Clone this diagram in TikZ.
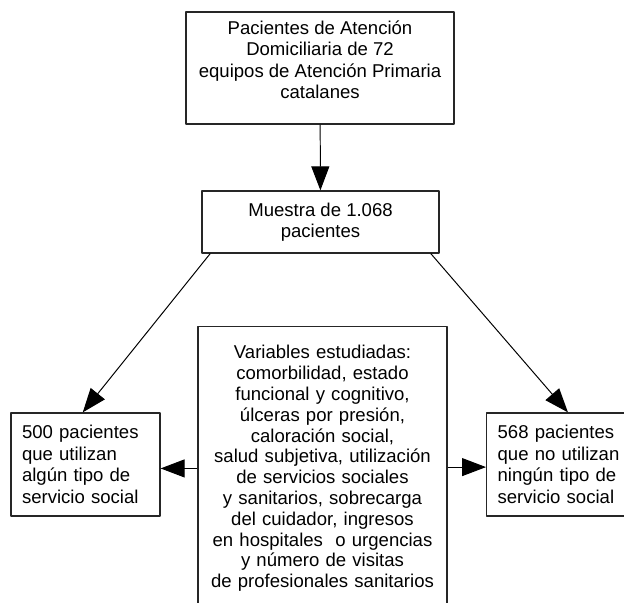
\documentclass[tikz,border=0pt]{standalone}
\usepackage{fontspec}
\setmainfont{Liberation Sans}
\usetikzlibrary{arrows.meta}
\begin{document}
\begin{tikzpicture}[line join=round,font=\fontsize{13.2pt}{15.3pt}\selectfont,
		caja/.style={draw=black!85,line width=0.9pt,inner sep=0pt,align=center},
		flecha/.style={line width=0.7pt,-{Triangle[length=0.6cm,width=0.45cm]}}]
			\useasboundingbox (0,0) rectangle (15.6,15.05);
			\clip (0,0) rectangle (15.6,15.05);
			\node[caja,minimum width=6.7cm,minimum height=2.8cm,text depth=0.42cm] (pacientes) at (8,13.35)
				{Pacientes de Atención\\Domiciliaria de 72\\equipos de Atención Primaria\\catalanes};
			\node[caja,minimum width=5.925cm,minimum height=1.55cm] (muestra) at (8.0125,9.5)
				{Muestra de 1.068\\pacientes};
			\node[caja,align=left,text width=3.175cm,inner xsep=0.275cm,minimum height=2.575cm] (usan) at (2.1375,3.4375)
				{500 pacientes\\que utilizan\\algún tipo de\\servicio social};
			\node[caja,align=left,text width=3.15cm,inner xsep=0.275cm,minimum height=2.575cm,anchor=west] (nousan) at (12.15,3.4375)
				{568 pacientes\\que no utilizan\\ningún tipo de\\servicio social};
			\node[caja,text width=6.225cm,inner ysep=0.47cm,anchor=north,font=\fontsize{13.2pt}{14.8pt}\selectfont] (variables) at (8.0625,6.9)
				{Variables estudiadas:\\comorbilidad, estado\\funcional y cognitivo,\\úlceras por presión,\\caloración social,\\salud subjetiva, utilización\\de servicios sociales\\y sanitarios, sobrecarga\\del cuidador, ingresos\\en hospitales\ \ o urgencias\\y número de visitas\\de profesionales sanitarios};
			\draw[flecha] (pacientes) -- (muestra);
			\draw[flecha] (muestra.196.7) -- (usan.93.9);
			\draw[flecha] (muestra.-16.1) -- (nousan.82.3);
			\draw[flecha] (variables.west |- usan.-3.5) -- (usan.-3.5);
			\draw[flecha] (variables.east |- nousan.182.7) -- (nousan.182.7);
		\end{tikzpicture}
\end{document}
